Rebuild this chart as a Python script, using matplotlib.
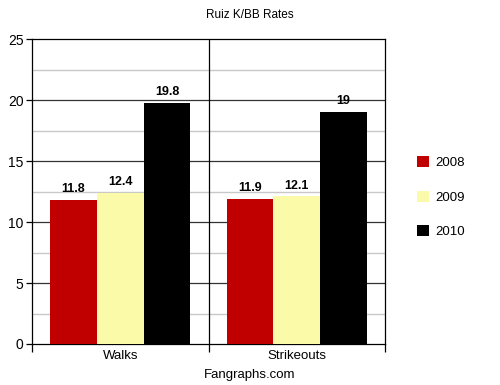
import numpy as np
import matplotlib
matplotlib.use('Agg')
import matplotlib.pyplot as plt
from matplotlib.patches import Patch

plt.rcParams['font.family'] = ['Liberation Sans', 'DejaVu Sans']

categories = ['Walks', 'Strikeouts']
years = ['2008', '2009', '2010']
rates_2008 = [11.8, 11.9]
rates_2009 = [12.4, 12.1]
rates_2010 = [19.8, 19]
value_labels = [['11.8', '11.9'], ['12.4', '12.1'], ['19.8', '19']]
colors = ['#c00000', '#fafaa8', '#000000']

fig = plt.figure(figsize=(5, 3.85), dpi=100)
ax = fig.add_axes([0.064, 0.1065, 0.706, 0.792])

series = [rates_2008, rates_2009, rates_2010]
w = 0.265
centers = np.arange(len(categories)) + 0.5
for i, vals in enumerate(series):
    xs = centers + (i - 1) * w
    ax.bar(xs, vals, width=w, color=colors[i], edgecolor='none', zorder=3)
    for x, v, lab in zip(xs, vals, value_labels[i]):
        ax.text(x, v + 0.4, lab, ha='center', va='bottom', fontsize=9,
                fontweight='bold', zorder=4)

ax.set_xlim(0, 2)
ax.set_ylim(0, 25)

# gridlines: light at half steps, dark at multiples of 5
for y in np.arange(2.5, 25, 5):
    ax.axhline(y, color='#c8c8c8', linewidth=1, zorder=1)
for y in np.arange(5, 25, 5):
    ax.axhline(y, color='#333333', linewidth=0.9, zorder=1)
ax.axvline(1, color='black', linewidth=0.9, zorder=1)

ax.set_yticks(np.arange(0, 26, 5))
ax.set_yticklabels([str(v) for v in range(0, 26, 5)], fontsize=10)
ax.set_xticks([0, 1, 2])
ax.set_xticklabels([])
ax.tick_params(axis='x', length=6, width=0.9, direction='out')
ax.tick_params(axis='y', length=4, width=0.9, direction='out', pad=2)
for x, lab in zip(centers, categories):
    ax.text(x, -0.5, lab, ha='center', va='top', fontsize=9.5)

for s in ax.spines.values():
    s.set_linewidth(0.9)
    s.set_color('black')

fig.text(0.5, 0.96, 'Ruiz K/BB Rates', ha='center', va='center', fontsize=8.5)
fig.text(0.5, 0.026, 'Fangraphs.com', ha='center', va='center', fontsize=9.5)

handles = [Patch(facecolor=c, edgecolor='none') for c in colors]
fig.legend(handles, years, loc='center left', bbox_to_anchor=(0.81, 0.488),
           frameon=False, fontsize=9.5, handlelength=0.9, handleheight=0.9,
           labelspacing=1.6, handletextpad=0.5)

fig.savefig('out.png', dpi=100)
